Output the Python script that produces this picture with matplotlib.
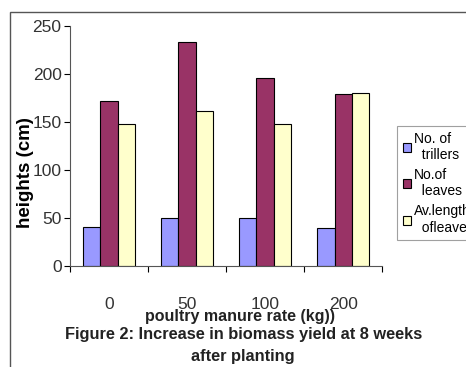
import matplotlib.pyplot as plt
import numpy as np
from matplotlib.patches import Rectangle

# Data
rates = ['0', '50', '100', '200']
tillers = [41, 50, 50, 40]
leaves = [172, 233, 196, 179]
leaf_length = [148, 162, 148, 180]

plt.rcParams['font.family'] = ['Liberation Sans', 'DejaVu Sans']

fig = plt.figure(figsize=(4.66, 3.67), dpi=100)
ax = fig.add_axes([0.150, 0.275, 0.670, 0.654])

# outer frame like the pasted chart box
fig.patches.append(Rectangle((10 / 466, -0.05), 1.2, 1 - 12 / 367 + 0.05,
                             transform=fig.transFigure, fill=False,
                             edgecolor='#555555', linewidth=1.0))

x = np.arange(len(rates))
w = 0.22
ax.bar(x - w, tillers, w, color='#9999FF', edgecolor='black', linewidth=0.8, label='No. of\n  trillers')
ax.bar(x, leaves, w, color='#993366', edgecolor='black', linewidth=0.8, label='No.of\n  leaves')
ax.bar(x + w, leaf_length, w, color='#FFFFCC', edgecolor='black', linewidth=0.8, label='Av.length\n  ofleaves')

ax.set_xlim(-0.5, len(rates) - 0.5)
ax.set_ylim(0, 250)
ax.set_yticks(range(0, 251, 50))
ax.tick_params(axis='y', labelsize=12.5, labelcolor='#333333', length=4, width=0.8, pad=2)
ax.set_xticks(x)
ax.set_xticklabels(rates)
ax.tick_params(axis='x', which='major', length=0, pad=22, labelsize=12.5, labelcolor='#333333')
ax.set_xticks(np.arange(len(rates) + 1) - 0.5, minor=True)
ax.tick_params(axis='x', which='minor', length=4, width=0.8, direction='out')

for s in ['top', 'right']:
    ax.spines[s].set_visible(False)
for s in ['left', 'bottom']:
    ax.spines[s].set_color('#555555')

ax.set_ylabel('heights (cm)', fontsize=13.5, fontweight='bold')
ax.yaxis.set_label_coords(-0.115, 0.39)

fig.text(0.515, 1 - 316 / 367, 'poultry manure rate (kg))', ha='center', va='center',
         fontsize=11.5, fontweight='bold', color='#222222')
fig.text(0.522, 1 - 335 / 367, 'Figure 2: Increase in biomass yield at 8 weeks',
         ha='center', va='center', fontsize=11.8, fontweight='bold', color='#222222')
fig.text(0.522, 1 - 356 / 367, 'after planting', ha='center', va='center',
         fontsize=11.8, fontweight='bold', color='#222222')

leg = ax.legend(loc='upper left', bbox_to_anchor=(397 / 466, 1 - 126 / 367),
                bbox_transform=fig.transFigure, fontsize=10, frameon=True,
                fancybox=False, handlelength=0.6, handleheight=0.6,
                handletextpad=0.2, borderpad=0.4, labelspacing=0.45,
                borderaxespad=0)
leg.get_frame().set_edgecolor('#888888')
leg.get_frame().set_linewidth(0.8)

fig.savefig('out.png', dpi=100)
